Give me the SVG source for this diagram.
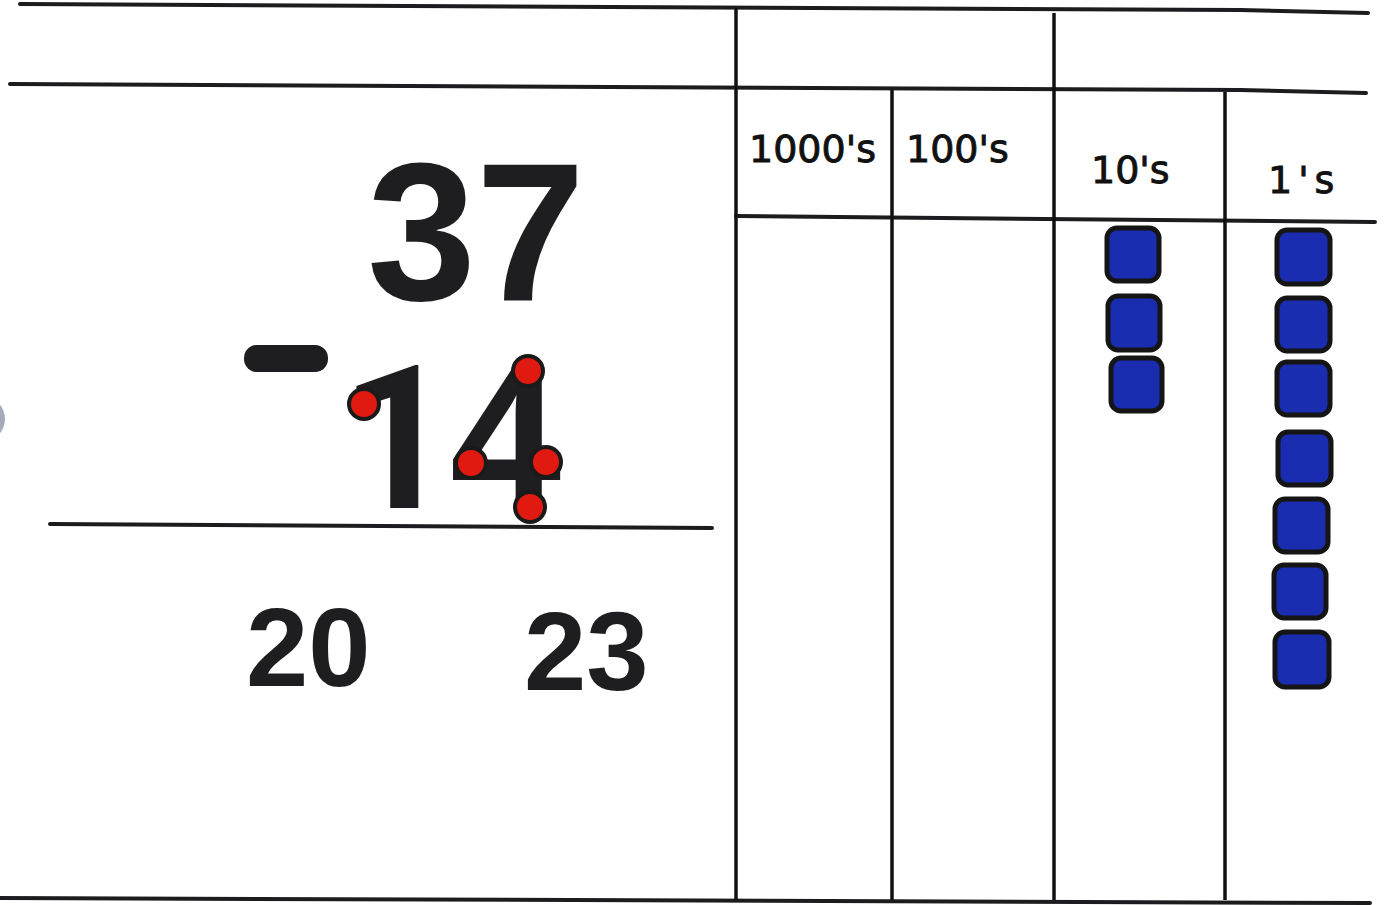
<svg xmlns="http://www.w3.org/2000/svg" width="1397" height="905" viewBox="0 0 1397 905">
<style>
.ln{stroke:#1c1c1e;stroke-width:4;fill:none;stroke-linecap:round}
.vl{stroke:#111;stroke-width:3.5;fill:none}
.big{font-family:"Liberation Sans",Arial,sans-serif;font-weight:bold;fill:#1e1e20}
.hd{font-family:"DejaVu Sans","Noto Sans",sans-serif;fill:#111;stroke:#111;stroke-width:0.9;font-size:38px}
.blk{fill:#1a2db0;stroke:#151515;stroke-width:5}
.dot{fill:#e01a10;stroke:#1a1a1a;stroke-width:4}
</style>
<rect width="1397" height="905" fill="#ffffff"/>
<g id="lines">
<path class="ln" d="M20 4 L1240 10 L1368 13"/>
<path class="ln" d="M10 84 L1240 90 L1366 93"/>
<path class="ln" d="M736 216 L1375 222"/>
<path class="ln" d="M50 524 L712 528"/>
<path class="ln" d="M0 898 L1370 903"/>
<path class="vl" d="M736 8 V900"/>
<path class="vl" d="M892 90 V900"/>
<path class="vl" d="M1054 13 V900"/>
<path class="vl" d="M1225 92 V900"/>
</g>
<g id="headers">
<text class="hd" x="749" y="162">1000's</text>
<text class="hd" x="906" y="162">100's</text>
<text class="hd" x="1091" y="183">10's</text>
<text class="hd" x="1268" y="193" font-size="42" letter-spacing="6">1's</text>
</g>
<g id="problem">
<text class="big" x="367" y="300" font-size="196">37</text>
<rect x="244" y="345" width="84" height="27" rx="13" fill="#1e1e20"/>
<text x="340" y="508" font-size="200" font-family="Roboto, 'Open Sans', sans-serif" font-weight="bold" fill="#1e1e20">1</text>
<text class="big" x="450" y="508" font-size="200">4</text>
<circle class="dot" cx="364" cy="404" r="15"/>
<circle class="dot" cx="528" cy="371" r="15"/>
<circle class="dot" cx="471" cy="463" r="15"/>
<circle class="dot" cx="546" cy="462" r="15"/>
<circle class="dot" cx="530" cy="507" r="15"/>
</g>
<g id="answers">
<text class="big" x="246" y="686" font-size="112">20</text>
<text class="big" x="524" y="690" font-size="112">23</text>
</g>
<g id="tens">
<rect class="blk" x="1107" y="228" width="52" height="53" rx="10"/>
<rect class="blk" x="1108" y="296" width="52" height="54" rx="10"/>
<rect class="blk" x="1111" y="358" width="51" height="53" rx="10"/>
</g>
<g id="ones">
<rect class="blk" x="1277" y="230" width="53" height="54" rx="10"/>
<rect class="blk" x="1277" y="298" width="53" height="53" rx="10"/>
<rect class="blk" x="1277" y="362" width="53" height="53" rx="10"/>
<rect class="blk" x="1278" y="432" width="53" height="53" rx="10"/>
<rect class="blk" x="1275" y="499" width="53" height="53" rx="10"/>
<rect class="blk" x="1274" y="565" width="52" height="53" rx="10"/>
<rect class="blk" x="1275" y="632" width="54" height="55" rx="10"/>
</g>
<circle cx="-18" cy="419" r="23" fill="#a4acbc"/>
</svg>
